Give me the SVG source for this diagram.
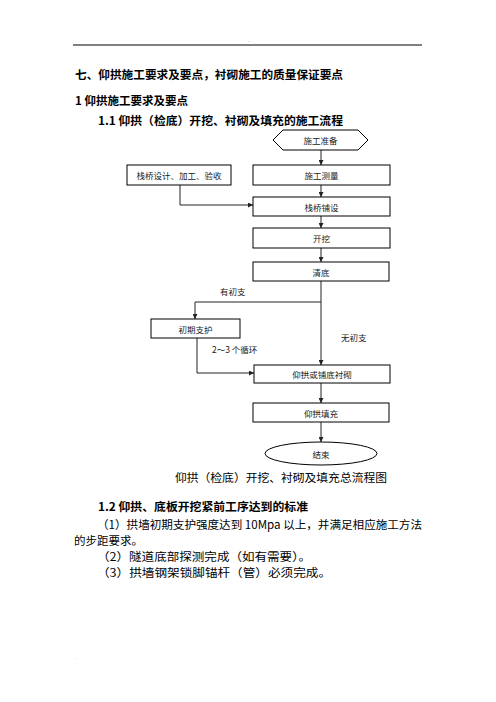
<svg xmlns="http://www.w3.org/2000/svg" width="496" height="702" viewBox="0 0 496 702">
<style>
text{font-family:"Noto Sans CJK SC","Noto Sans",sans-serif;fill:#000}
.h{font-size:11.5px;font-weight:bold}
.b{font-size:11.5px}
.n{font-size:8.5px;fill:#222;text-anchor:middle;dominant-baseline:central}
.l{font-size:8.5px;fill:#222}
.box{fill:#fff;stroke:#000;stroke-width:1}
.c{fill:none;stroke:#222;stroke-width:1}
</style>
<defs>
<marker id="ah" viewBox="0 0 8 8" refX="8" refY="4" markerWidth="5" markerHeight="5" orient="auto" markerUnits="userSpaceOnUse">
<path d="M0,0L8,4L0,8Z" fill="#222"/>
</marker>
</defs>
<rect width="496" height="702" fill="#fff"/>
<line x1="73" y1="45" x2="422" y2="45" stroke="#000" stroke-width="1"/>
<text x="248" y="42" style="font-size:5px;fill:#999">.</text>
<text x="74" y="659" style="font-size:5px;fill:#bbb">.</text>

<text class="h" x="75" y="79" textLength="268" lengthAdjust="spacingAndGlyphs">七、仰拱施工要求及要点，衬砌施工的质量保证要点</text>
<text class="h" x="75" y="105" textLength="113" lengthAdjust="spacingAndGlyphs">1 仰拱施工要求及要点</text>
<text class="h" x="98" y="125" textLength="245" lengthAdjust="spacingAndGlyphs">1.1 仰拱（检底）开挖、衬砌及填充的施工流程</text>

<g id="connectors">
<line class="c" x1="321" y1="150" x2="321" y2="165" marker-end="url(#ah)"/>
<line class="c" x1="321" y1="185" x2="321" y2="197" marker-end="url(#ah)"/>
<polyline class="c" points="180,185 180,205 253,205" marker-end="url(#ah)"/>
<line class="c" x1="321" y1="216" x2="321" y2="228" marker-end="url(#ah)"/>
<line class="c" x1="321" y1="248" x2="321" y2="262" marker-end="url(#ah)"/>
<line class="c" x1="321" y1="281" x2="321" y2="365" marker-end="url(#ah)"/>
<polyline class="c" points="321,302 195,302 195,319" marker-end="url(#ah)"/>
<polyline class="c" points="197,338 197,373 254,373" marker-end="url(#ah)"/>
<line class="c" x1="321" y1="383" x2="321" y2="403" marker-end="url(#ah)"/>
<line class="c" x1="321" y1="422" x2="321" y2="442" marker-end="url(#ah)"/>
<text class="l" x="220" y="295">有初支</text>
<text class="l" x="341" y="341">无初支</text>
<text class="l" x="212" y="353">2～3 个循环</text>
</g>

<g id="n-start"><polygon class="box" points="273,140 283,130 358,130 368,140 358,150 283,150"/><text class="n" x="320.5" y="140">施工准备</text></g>
<g id="n-measure"><rect class="box" x="253" y="165" width="137" height="20"/><text class="n" x="321.5" y="175">施工测量</text></g>
<g id="n-design"><rect class="box" x="127" y="165" width="104" height="20"/><text class="n" x="179" y="175">栈桥设计、加工、验收</text></g>
<g id="n-lay"><rect class="box" x="253" y="197" width="137" height="19"/><text class="n" x="321.5" y="206.5">栈桥铺设</text></g>
<g id="n-dig"><rect class="box" x="253" y="228" width="137" height="20"/><text class="n" x="321.5" y="238">开挖</text></g>
<g id="n-clean"><rect class="box" x="253" y="262" width="136" height="19"/><text class="n" x="321" y="271.5">清底</text></g>
<g id="n-support"><rect class="box" x="151" y="319" width="89" height="19"/><text class="n" x="195.5" y="328.5">初期支护</text></g>
<g id="n-lining"><rect class="box" x="254" y="365" width="136" height="18"/><text class="n" x="322" y="374">仰拱或铺底衬砌</text></g>
<g id="n-fill"><rect class="box" x="253" y="403" width="136" height="19"/><text class="n" x="321" y="412.5">仰拱填充</text></g>
<g id="n-end"><ellipse class="box" cx="321" cy="453.5" rx="56" ry="11.5"/><text class="n" x="321" y="453.5">结束</text></g>

<text class="b" x="175" y="482" textLength="212" lengthAdjust="spacingAndGlyphs">仰拱（检底）开挖、衬砌及填充总流程图</text>

<text class="h" x="98" y="511" textLength="210" lengthAdjust="spacingAndGlyphs">1.2 仰拱、底板开挖紧前工序达到的标准</text>
<text class="b" x="97" y="529" textLength="325" lengthAdjust="spacingAndGlyphs">（1）拱墙初期支护强度达到 10Mpa 以上，并满足相应施工方法</text>
<text class="b" x="74" y="545">的步距要求。</text>
<text class="b" x="97" y="561" textLength="214" lengthAdjust="spacingAndGlyphs">（2）隧道底部探测完成（如有需要）。</text>
<text class="b" x="97" y="577" textLength="234" lengthAdjust="spacingAndGlyphs">（3）拱墙钢架锁脚锚杆（管）必须完成。</text>
</svg>
